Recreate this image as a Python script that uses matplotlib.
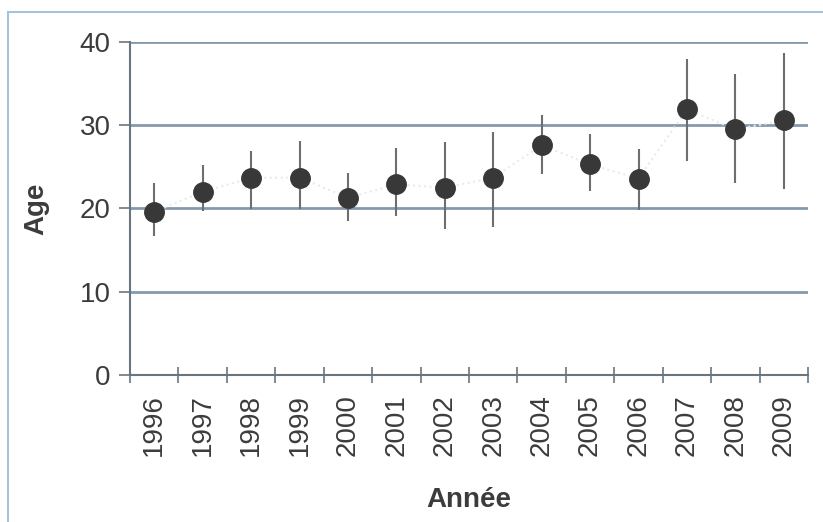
import numpy as np
import matplotlib.pyplot as plt
from matplotlib.lines import Line2D

years = ['1996', '1997', '1998', '1999', '2000', '2001', '2002',
         '2003', '2004', '2005', '2006', '2007', '2008', '2009']
age_mean = [19.6, 22.0, 23.7, 23.7, 21.3, 22.9, 22.5,
            23.7, 27.6, 25.3, 23.6, 31.9, 29.5, 30.6]
age_high = [23.1, 25.2, 26.9, 28.1, 24.3, 27.3, 28.0,
            29.2, 31.2, 28.9, 27.1, 38.0, 36.1, 38.7]
age_low = [16.7, 19.7, 19.9, 19.9, 18.5, 19.1, 17.5,
           17.8, 24.1, 22.1, 19.8, 25.7, 23.1, 22.3]

plt.rcParams['font.family'] = ['Liberation Sans', 'DejaVu Sans']

fig = plt.figure(figsize=(8.23, 5.22), dpi=100)
ax = fig.add_axes([130 / 823, 1 - 375 / 522, 678 / 823, 333 / 522])

x = np.arange(len(years))
mean = np.array(age_mean)
err = [mean - np.array(age_low), np.array(age_high) - mean]

grid_c = '#8599ad'
text_c = '#3c3c3c'

for v in [10, 20, 30, 40]:
    ax.axhline(v, color=grid_c, lw=2, zorder=1)

# faint connecting line
ax.plot(x, mean, color='#e6ecec', lw=1.5, ls=':', zorder=2)
ax.errorbar(x, mean, yerr=err, fmt='none', ecolor='#6e6e6e', elinewidth=1.5, zorder=3)
ax.plot(x, mean, 'o', color='#383838', ms=14, zorder=4)

ax.set_xlim(-0.5, len(years) - 0.5)
ax.set_ylim(0, 40)

ax.set_xticks(np.arange(-0.5, len(years)), minor=False)
ax.set_xticklabels([])
ax.set_xticks(x, minor=True)
ax.set_xticklabels(years, minor=True, rotation=90, fontsize=20, color=text_c)
ax.tick_params(axis='x', which='major', direction='inout', length=12, width=1.2, color='#6a7580')
ax.tick_params(axis='x', which='minor', length=0, pad=14)

ax.set_yticks([0, 10, 20, 30, 40])
ax.set_yticklabels(['0', '10', '20', '30', '40'], fontsize=20, color=text_c)
ax.tick_params(axis='y', direction='out', length=8, width=1.2, color='#6a7580', pad=6)

for s in ['top', 'right']:
    ax.spines[s].set_visible(False)
ax.spines['left'].set_color('#6a7580')
ax.spines['bottom'].set_color('#6a7580')
ax.spines['left'].set_linewidth(1.5)
ax.spines['bottom'].set_linewidth(1.5)

ax.set_ylabel('Age', fontsize=20, fontweight='bold', color=text_c, labelpad=22)
ax.set_xlabel('Année', fontsize=20, fontweight='bold', color=text_c, labelpad=22)

# outer frame
fx = 8 / 823
fy = 1 - 12 / 522
fig.add_artist(Line2D([fx, 1], [fy, fy], color='#a3c4da', lw=1.5, transform=fig.transFigure))
fig.add_artist(Line2D([fx, fx], [0, fy], color='#a3c4da', lw=1.5, transform=fig.transFigure))

fig.savefig('out.png', dpi=100)
